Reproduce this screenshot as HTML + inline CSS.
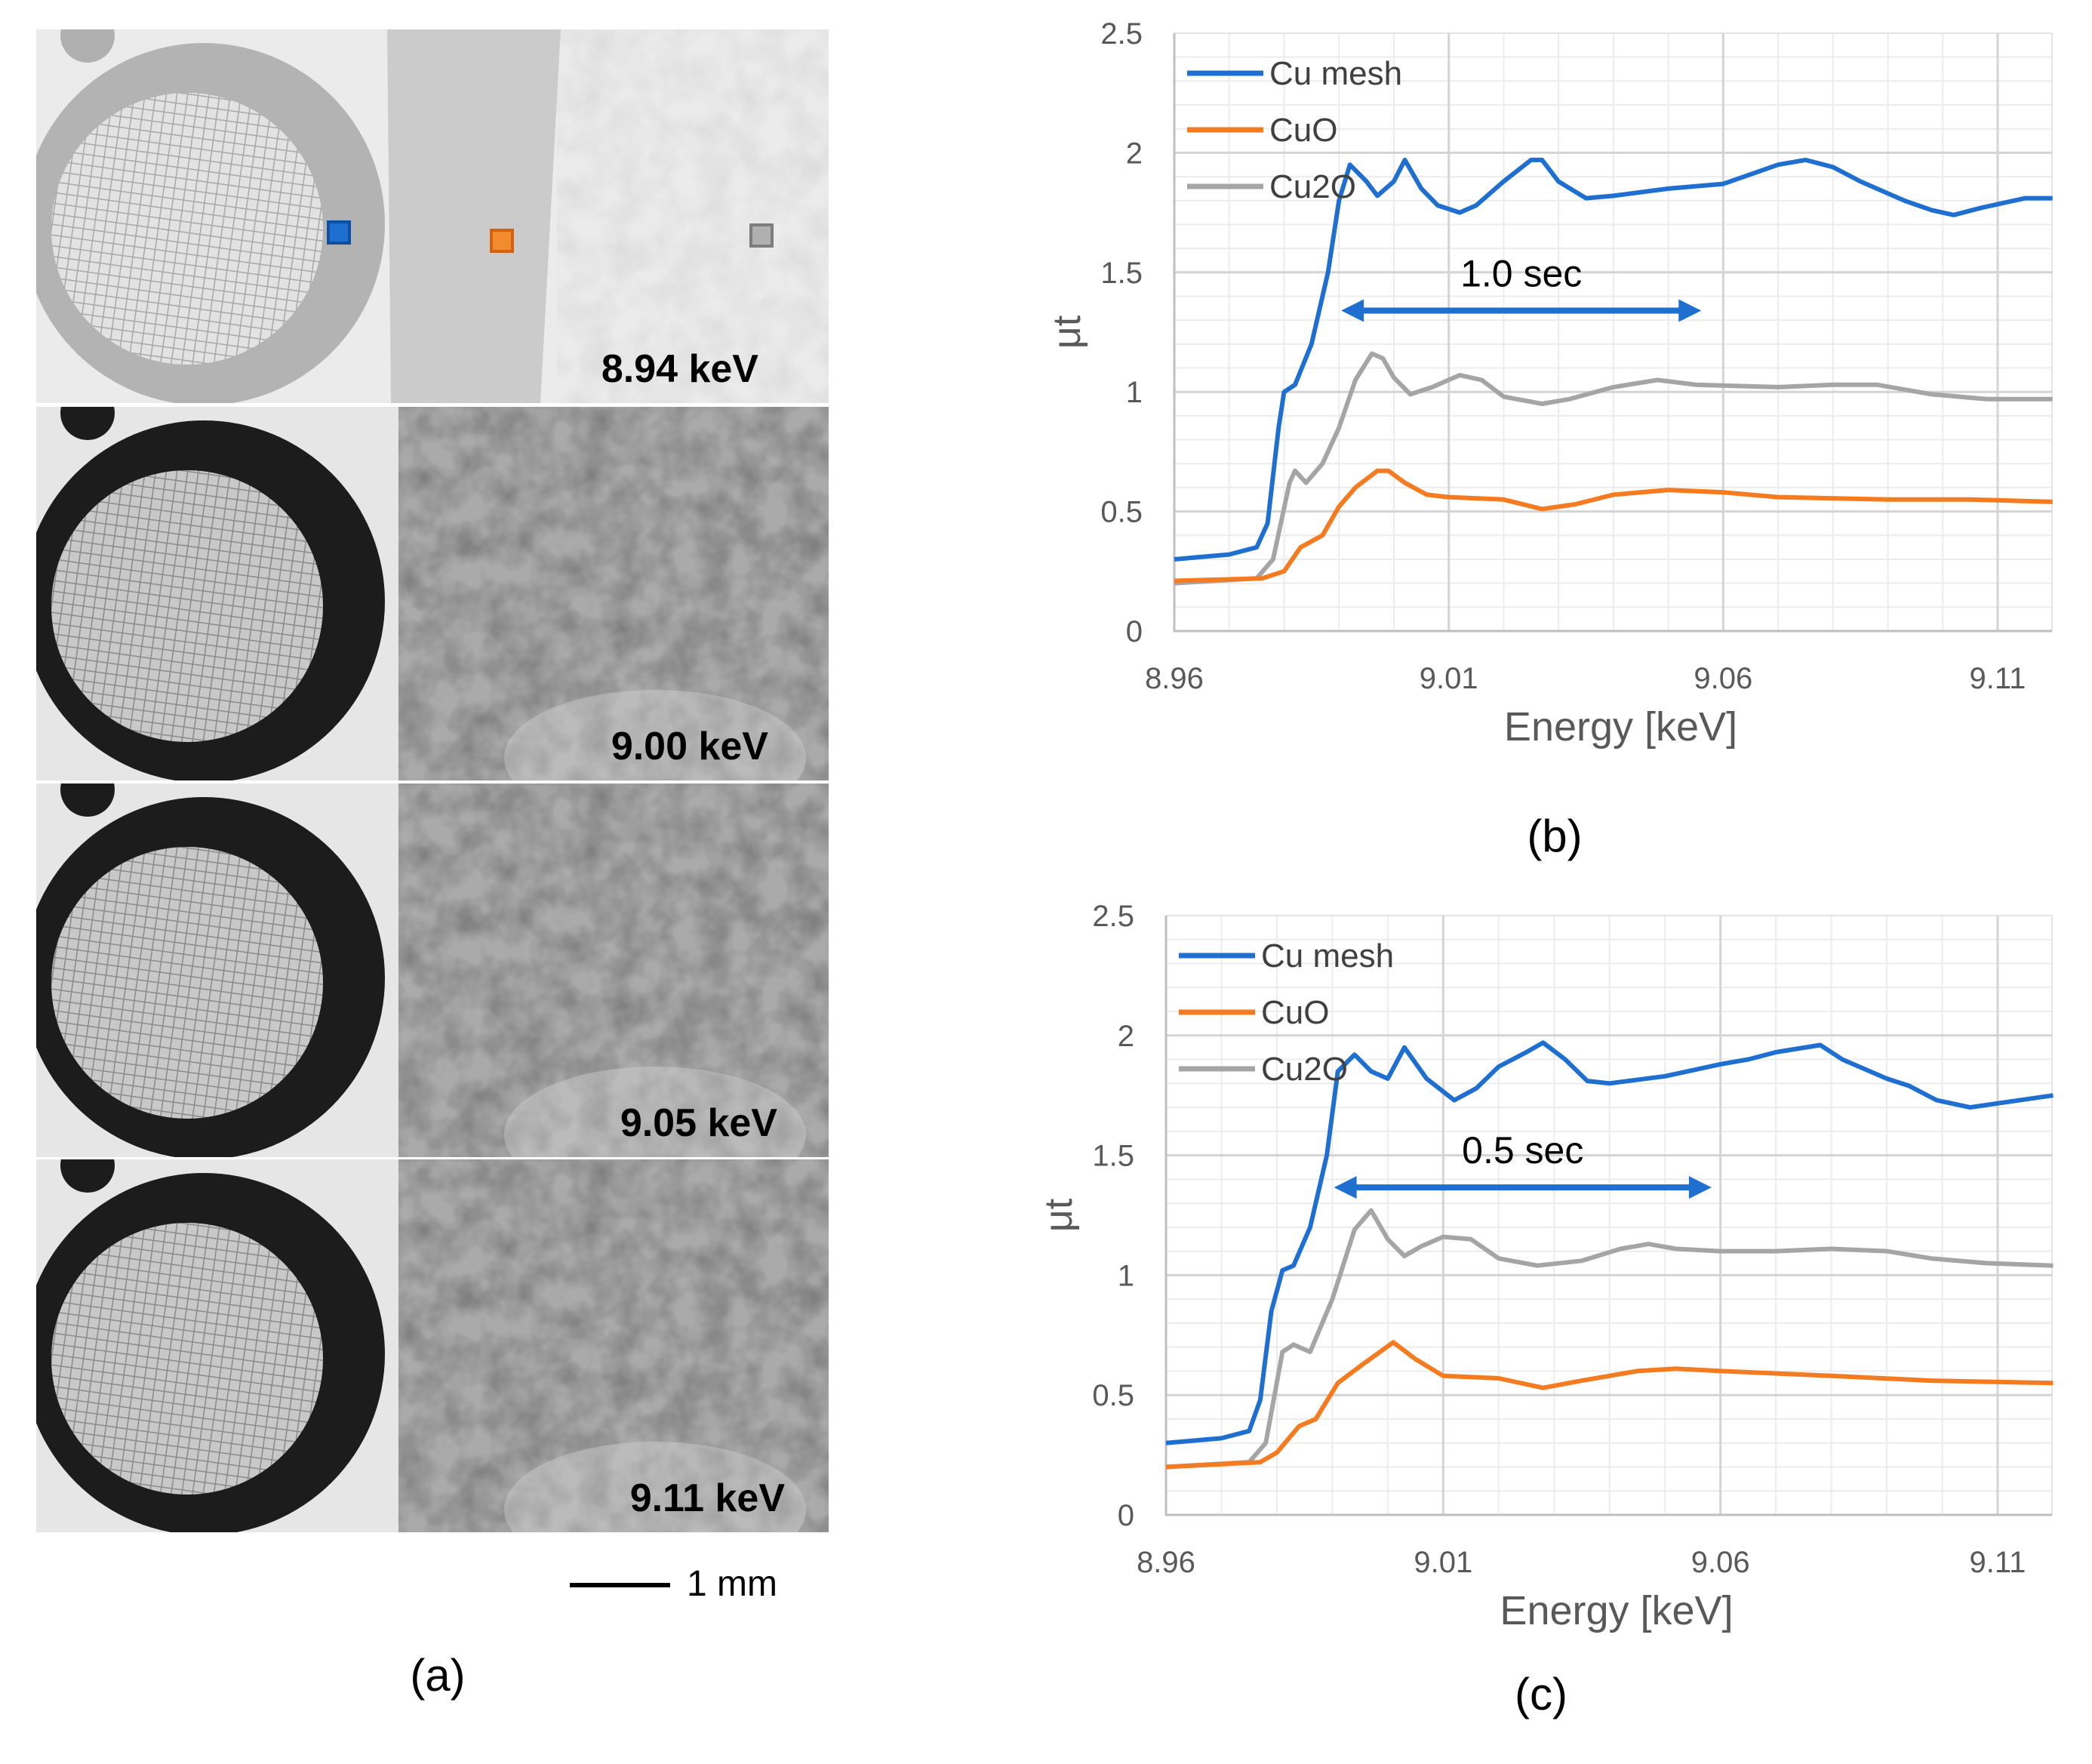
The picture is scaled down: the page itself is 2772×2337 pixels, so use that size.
<!DOCTYPE html>
<html><head><meta charset="utf-8">
<style>
html,body{margin:0;padding:0;background:#fff;}
body{width:2772px;height:2337px;position:relative;overflow:hidden;font-family:"Liberation Sans",sans-serif;}
svg{position:absolute;left:0;top:0;}
</style></head>
<body>
<svg id="root" width="2772" height="2337" viewBox="0 0 2772 2337">
<defs>
<pattern id="mesh" width="14" height="14" patternUnits="userSpaceOnUse" patternTransform="rotate(8)">
<rect width="14" height="14" fill="#e2e2e2"/><path d="M0 0H14M0 0V14" stroke="#a8a8a8" stroke-width="3"/></pattern>
<pattern id="meshd" width="14" height="14" patternUnits="userSpaceOnUse" patternTransform="rotate(8)">
<rect width="14" height="14" fill="#c8c8c8"/><path d="M0 0H14M0 0V14" stroke="#8a8a8a" stroke-width="3"/></pattern>
<filter id="noise" x="0" y="0" width="1" height="1"><feTurbulence type="fractalNoise" baseFrequency="0.025" numOctaves="3" seed="4"/><feColorMatrix type="matrix" values="0 0 0 0 0.2 0 0 0 0 0.2 0 0 0 0 0.2 1.8 0 0 0 -0.55"/></filter>
</defs>
<g id="images"></g>
<g id="chartB"></g>
<g id="chartC"></g>
<g>
<line x1="755" y1="2100" x2="888" y2="2100" stroke="#000" stroke-width="6"/>
<text x="910" y="2114" font-size="48" fill="#000">1 mm</text></g>
<text x="580" y="2240" font-size="60" text-anchor="middle">(a)</text>
<text x="2060" y="1128" font-size="60" text-anchor="middle">(b)</text>
<text x="2042" y="2265" font-size="60" text-anchor="middle">(c)</text>
</svg>
<script>
const NS='http://www.w3.org/2000/svg';
function mk(p,t,a,txt){const e=document.createElementNS(NS,t);for(const k in a)e.setAttribute(k,a[k]);if(txt!==undefined)e.textContent=txt;p.appendChild(e);return e;}

// ---- Panel (a) images ----
const panelTops=[39,539,1038,1536];
const panelLabels=['8.94 keV','9.00 keV','9.05 keV','9.11 keV'];
const panelLabelX=[1005,1018,1030,1040];
const imgs=document.getElementById('images');
panelTops.forEach((top,i)=>{
  const g=mk(imgs,'g',{transform:`translate(48,${top})`});
  
  
  const h=i==3?494:495;
  const cp='cp'+i;
  const c=mk(g,'clipPath',{id:cp});mk(c,'rect',{x:0,y:0,width:1050,height:h});
  const gg=mk(g,'g',{'clip-path':`url(#${cp})`});
  const first=i==0;
  mk(gg,'rect',{x:0,y:0,width:1050,height:h,fill:first?'#ebebeb':'#e6e6e6'});
  if(first){
    mk(gg,'rect',{x:690,y:0,width:360,height:h,filter:'url(#noise)',opacity:0.12});
    mk(gg,'polygon',{points:`465,0 695,0 668,${h} 470,${h}`,fill:'#cbcbcb'});
  } else {
    mk(gg,'rect',{x:480,y:0,width:570,height:h,fill:'#aaaaaa'});
    mk(gg,'rect',{x:480,y:0,width:570,height:h,filter:'url(#noise)',opacity:0.9});
    mk(gg,'ellipse',{cx:820,cy:h-30,rx:200,ry:90,fill:'#dcdcdc',opacity:0.35});
  }
  mk(gg,'circle',{cx:68,cy:8,r:36,fill:first?'#b0b0b0':'#1c1c1c'});
  mk(gg,'circle',{cx:222,cy:258,r:240,fill:first?'#b3b3b3':'#1c1c1c'});
  mk(gg,'circle',{cx:200,cy:264,r:180,fill:first?'url(#mesh)':'url(#meshd)'});
  mk(gg,'text',{x:panelLabelX[i]-48,y:h-28,'font-size':52,'font-weight':'bold','text-anchor':'end',fill:'#000'},panelLabels[i]);
  if(first){
    mk(gg,'rect',{x:387,y:255,width:28,height:28,fill:'#1f6fd0',stroke:'#0d4fa0','stroke-width':4});
    mk(gg,'rect',{x:603,y:266,width:28,height:28,fill:'#f28a2e',stroke:'#d5600e','stroke-width':4});
    mk(gg,'rect',{x:947,y:259,width:28,height:28,fill:'#b0b0b0',stroke:'#7d7d7d','stroke-width':4});
  }
});

// ---- Chart data (b) ----
const bCuMeshE=[8.96,8.965,8.97,8.975,8.977,8.979,8.98,8.982,8.985,8.988,8.99,8.992,8.995,8.997,9.0,9.002,9.005,9.008,9.012,9.015,9.02,9.025,9.027,9.03,9.035,9.04,9.05,9.06,9.065,9.07,9.075,9.08,9.085,9.093,9.098,9.102,9.107,9.115,9.12];
const bCuMeshV=[0.30,0.31,0.32,0.35,0.45,0.85,1.0,1.03,1.2,1.5,1.8,1.95,1.88,1.82,1.88,1.97,1.85,1.78,1.75,1.78,1.88,1.97,1.97,1.88,1.81,1.82,1.85,1.87,1.91,1.95,1.97,1.94,1.88,1.80,1.76,1.74,1.77,1.81,1.81];
const bCu2OE=[8.96,8.975,8.978,8.981,8.982,8.984,8.987,8.99,8.993,8.996,8.998,9.0,9.003,9.007,9.012,9.016,9.02,9.027,9.032,9.04,9.048,9.055,9.07,9.08,9.088,9.098,9.108,9.12];
const bCu2OV=[0.20,0.22,0.30,0.62,0.67,0.62,0.70,0.85,1.05,1.16,1.14,1.06,0.99,1.02,1.07,1.05,0.98,0.95,0.97,1.02,1.05,1.03,1.02,1.03,1.03,0.99,0.97,0.97];
const bCuOE=[8.96,8.976,8.98,8.983,8.987,8.99,8.993,8.997,8.999,9.002,9.006,9.01,9.02,9.027,9.033,9.04,9.05,9.06,9.07,9.09,9.105,9.12];
const bCuOV=[0.21,0.22,0.25,0.35,0.40,0.52,0.60,0.67,0.67,0.62,0.57,0.56,0.55,0.51,0.53,0.57,0.59,0.58,0.56,0.55,0.55,0.54];
// ---- Chart data (c) ----
const cCuMeshE=[8.96,8.97,8.975,8.977,8.979,8.981,8.983,8.986,8.989,8.991,8.994,8.997,9.0,9.003,9.007,9.012,9.016,9.02,9.025,9.028,9.032,9.036,9.04,9.05,9.06,9.065,9.07,9.078,9.082,9.09,9.094,9.099,9.105,9.111,9.12];
const cCuMeshV=[0.30,0.32,0.35,0.48,0.85,1.02,1.04,1.2,1.5,1.85,1.92,1.85,1.82,1.95,1.82,1.73,1.78,1.87,1.93,1.97,1.90,1.81,1.80,1.83,1.88,1.90,1.93,1.96,1.90,1.82,1.79,1.73,1.70,1.72,1.75];
const cCu2OE=[8.96,8.975,8.978,8.981,8.983,8.986,8.99,8.994,8.997,9.0,9.003,9.006,9.01,9.015,9.02,9.027,9.035,9.042,9.047,9.052,9.06,9.07,9.08,9.09,9.098,9.108,9.12];
const cCu2OV=[0.20,0.22,0.30,0.68,0.71,0.68,0.90,1.19,1.27,1.15,1.08,1.12,1.16,1.15,1.07,1.04,1.06,1.11,1.13,1.11,1.10,1.10,1.11,1.10,1.07,1.05,1.04];
const cCuOE=[8.96,8.977,8.98,8.984,8.987,8.991,8.995,8.998,9.001,9.005,9.01,9.02,9.028,9.035,9.045,9.052,9.06,9.08,9.098,9.12];
const cCuOV=[0.20,0.22,0.26,0.37,0.40,0.55,0.62,0.67,0.72,0.65,0.58,0.57,0.53,0.56,0.60,0.61,0.60,0.58,0.56,0.55];
const xTicks=[8.96,9.01,9.06,9.11];
const xTickLabels=['8.96','9.01','9.06','9.11'];
const yTicks=[0,0.5,1,1.5,2,2.5];
const yTickLabels=['0','0.5','1','1.5','2','2.5'];
const seriesNames=['Cu mesh','CuO','Cu2O'];
const seriesColors=['#1f6fd0','#f47b20','#a5a5a5'];

function drawChart(gid,L,R,T,B,series,arrowE,arrowText,pref){
  const g=document.getElementById(gid);
  const e0=8.96,e1=9.11;
  const xs=e=>L+(e-e0)/(e1-e0)*(2647-L);
  const ys=v=>B-v/2.5*(B-T);
  for(let k=1;k<25;k++){const v=k*0.1;if(Math.abs(v*2-Math.round(v*2))<1e-6)continue;
    const l=mk(g,'line',{x1:L,x2:R,y1:ys(v),y2:ys(v),stroke:'#ececec','stroke-width':2});
    }
  for(let e=8.97;xs(e)<R-2;e+=0.01){if(Math.abs((e-8.96)/0.05-Math.round((e-8.96)/0.05))<1e-6)continue;
    const l=mk(g,'line',{x1:xs(e),x2:xs(e),y1:T,y2:B,stroke:'#ececec','stroke-width':2});
    }
  const rl=mk(g,'line',{x1:R,x2:R,y1:T,y2:B,stroke:'#e4e4e4','stroke-width':2});
  
  const tl=mk(g,'line',{x1:L,x2:R,y1:T,y2:T,stroke:'#e4e4e4','stroke-width':2});
  
  yTicks.forEach((v,i)=>{
    if(v>0&&v<2.5){const l=mk(g,'line',{x1:L,x2:R,y1:ys(v),y2:ys(v),stroke:'#d4d4d4','stroke-width':3});
    }
    const t=mk(g,'text',{x:L-42,y:ys(v)+14,'font-size':40,'text-anchor':'end',fill:'#595959'},yTickLabels[i]);
    
  });
  xTicks.forEach((v,i)=>{
    if(i>0){const l=mk(g,'line',{x1:xs(v),x2:xs(v),y1:T,y2:B,stroke:'#d4d4d4','stroke-width':3});
    }
    const t=mk(g,'text',{x:xs(v),y:B+76,'font-size':40,'text-anchor':'middle',fill:'#595959'},xTickLabels[i]);
    
  });
  const ax=mk(g,'path',{d:`M${L} ${T}V${B}H${R}`,stroke:'#bfbfbf','stroke-width':3,fill:'none'});
  
  [2,1,0].forEach(si=>{
    const [E,V]=series[si];
    const d=E.map((e,i)=>(i?'L':'M')+xs(e).toFixed(1)+' '+ys(V[i]).toFixed(1)).join('');
    const p=mk(g,'path',{d:d,stroke:seriesColors[si],'stroke-width':6,fill:'none','stroke-linejoin':'round'});
    
    
  });
  seriesNames.forEach((n,i)=>{
    const y=T+53+i*75;
    const lg=mk(g,'g',{});
    
    mk(lg,'line',{x1:L+17,x2:L+118,y1:y,y2:y,stroke:seriesColors[i],'stroke-width':7});
    mk(lg,'text',{x:L+126,y:y+15,'font-size':44,fill:'#404040'},n);
  });
  const a1=xs(arrowE[0]),a2=xs(arrowE[1]),ay=ys(arrowE[2]);
  const ar=mk(g,'g',{});
  
  mk(ar,'line',{x1:a1+20,x2:a2-20,y1:ay,y2:ay,stroke:'#1f6fd0','stroke-width':8});
  mk(ar,'polygon',{points:`${a1},${ay} ${a1+30},${ay-15} ${a1+30},${ay+15}`,fill:'#1f6fd0'});
  mk(ar,'polygon',{points:`${a2},${ay} ${a2-30},${ay-15} ${a2-30},${ay+15}`,fill:'#1f6fd0'});
  const at=mk(g,'text',{x:(a1+a2)/2,y:ay-32,'font-size':50,'text-anchor':'middle',fill:'#000'},arrowText);
  
  const yt=mk(g,'text',{x:0,y:0,'font-size':52,fill:'#595959','text-anchor':'middle',transform:`translate(${L-125},${(T+B)/2}) rotate(-90)`},'μt');
  
  const xt=mk(g,'text',{x:(L+R)/2+10,y:B+145,'font-size':54,'text-anchor':'middle',fill:'#595959'},'Energy [keV]');
  
}
drawChart('chartB',1556,2719,44,836,[[bCuMeshE,bCuMeshV],[bCuOE,bCuOV],[bCu2OE,bCu2OV]],[8.9904,9.056,1.34],'1.0 sec','b');
drawChart('chartC',1545,2719,1213,2007,[[cCuMeshE,cCuMeshV],[cCuOE,cCuOV],[cCu2OE,cCu2OV]],[8.9903,9.0584,1.366],'0.5 sec','c');
</script>
</body></html>
